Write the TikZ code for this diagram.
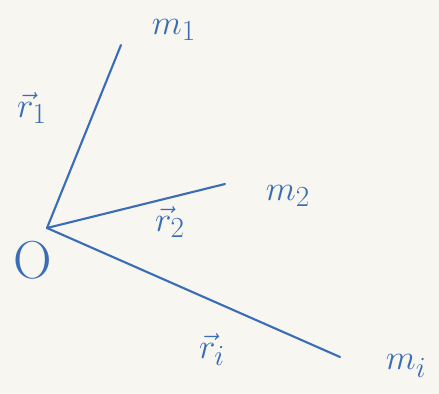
\documentclass[tikz,border=0pt]{standalone}
\usepackage{amsmath,amssymb}
\usepackage{tikz}
\usetikzlibrary{arrows.meta,positioning,calc}
\definecolor{inkblue}{HTML}{3A6DB5}
\definecolor{paper}{HTML}{F7F6F1}
\tikzset{
  ray/.style={draw=inkblue, line width=1.5pt, line cap=round},
  masslab/.style={text=inkblue, font=\fontsize{29}{33}\selectfont, inner sep=1pt},
  veclab/.style={text=inkblue, font=\fontsize{30}{34}\selectfont, inner sep=1pt},
}

\begin{document}
\begin{tikzpicture}
    \fill[paper] (0,0) rectangle (10.975,9.85);
    \useasboundingbox (0,0) rectangle (10.975,9.85);
    \coordinate (o) at (1.175,4.15);
    \coordinate (p1) at (3.025,8.725);
    \coordinate (p2) at (5.625,5.25);
    \coordinate (pi) at (8.5,0.925);
    \node[text=inkblue, font=\fontsize{38}{42}\selectfont, inner sep=0pt] (O) at (0.825,3.35) {O};
    \node[masslab] (m1) at (4.35,9.1) {$m_1$};
    \node[masslab] (m2) at (7.2,4.95) {$m_2$};
    \node[masslab] (mi) at (10.15,0.7) {$m_i$};
    \node[veclab] (r1) at (0.8,7.15) {$\vec{r}_1$};
    \node[veclab] (r2) at (4.25,4.3) {$\vec{r}_2$};
    \node[veclab] (ri) at (5.3,1.1) {$\vec{r}_i$};
    \draw[ray] (o) -- (p1); \draw[ray] (o) -- (p2); \draw[ray] (o) -- (pi);
  \end{tikzpicture}
\end{document}
